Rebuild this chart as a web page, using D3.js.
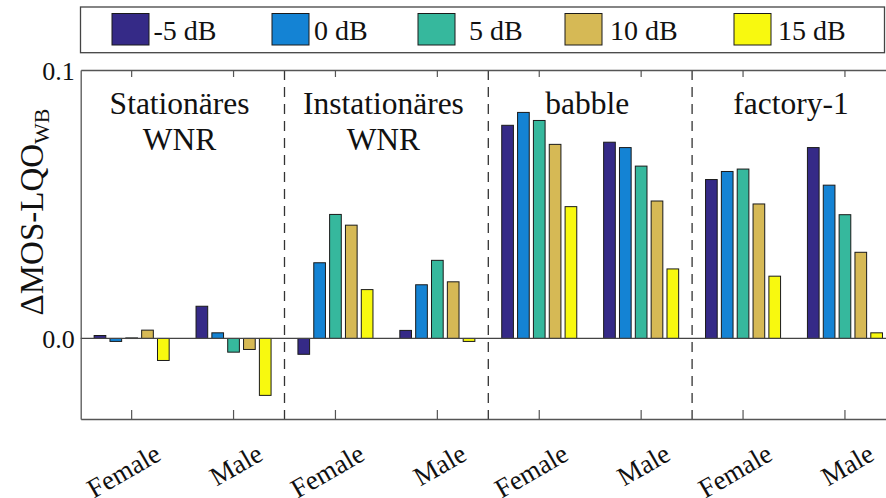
<!DOCTYPE html>
<html>
<head>
<meta charset="utf-8">
<script src="https://cdn.jsdelivr.net/npm/d3@7"></script>
</head>
<body style="margin:0">
<svg id="chart" width="886" height="498" style="display:block"></svg>
<script>
// Noise types (panels), speakers, SNR conditions
const panelTitles = [["Stationäres", "WNR"], ["Instationäres", "WNR"], ["babble"], ["factory-1"]];
const speakers = ["Female", "Male"];
const snrLabels = ["-5 dB", "0 dB", "5 dB", "10 dB", "15 dB"];
const snrColors = ["#352a87", "#1483d4", "#36b89d", "#d6b955", "#f8f90f"];
const yTicks = [0.0, 0.1];

// ΔMOS-LQO_WB per group: Stat F, Stat M, Instat F, Instat M, babble F, babble M, factory F, factory M
const snrM5 = [0.0011, 0.0120, -0.0059, 0.0030, 0.0794, 0.0731, 0.0592, 0.0711];
const snr0  = [-0.0011, 0.0021, 0.0282, 0.0200, 0.0842, 0.0711, 0.0622, 0.0571];
const snr5  = [0.0002, -0.0051, 0.0462, 0.0291, 0.0812, 0.0642, 0.0631, 0.0461];
const snr10 = [0.0031, -0.0041, 0.0422, 0.0211, 0.0723, 0.0512, 0.0501, 0.0321];
const snr15 = [-0.0082, -0.0212, 0.0182, -0.0011, 0.0491, 0.0259, 0.0232, 0.0021];
const seriesValues = [snrM5, snr0, snr5, snr10, snr15];

// Times-metric serif for every label
function serifText(sel) {
  sel.attr("font-family", "Liberation Serif")
     .style("font-family", '"Liberation Serif"')
     .attr("fill", "#111");
}

const groups = [];
panelTitles.forEach((t, p) => speakers.forEach(s => groups.push(p + "|" + s)));

const svg = d3.select("#chart");
const plotLeft = 80.7, plotRight = 895.9, plotTop = 70, plotBottom = 419;

const x = d3.scaleBand().domain(groups).range([plotLeft, plotRight]).padding(0);
const panelScale = d3.scaleBand().domain(d3.range(panelTitles.length)).range([plotLeft, plotRight]);
const inner = d3.scaleBand().domain(snrLabels).range([-39.6, 39.6]).paddingInner(0.2).paddingOuter(0.1);
const y = d3.scaleLinear().domain([-0.03, 0.1]).range([plotBottom, plotTop]);

// bars
const barData = [];
seriesValues.forEach((vals, si) => vals.forEach((v, gi) => barData.push({ g: groups[gi], s: snrLabels[si], c: snrColors[si], v })));
svg.append("g").selectAll("rect").data(barData).join("rect")
  .attr("x", d => x(d.g) + x.bandwidth() / 2 + inner(d.s) + 0.5)
  .attr("width", inner.bandwidth() - 1)
  .attr("y", d => Math.min(y(d.v), y(0)))
  .attr("height", d => Math.max(0.6, Math.abs(y(d.v) - y(0))))
  .attr("fill", d => d.c)
  .attr("stroke", "#1a1a1a")
  .attr("stroke-width", 1);

// zero reference line
svg.append("line")
  .attr("x1", plotLeft).attr("x2", plotRight).attr("y1", y(0)).attr("y2", y(0))
  .attr("stroke", "#444").attr("stroke-width", 1.2);

// dashed panel separators
svg.append("g").selectAll("line").data(d3.range(1, panelTitles.length)).join("line")
  .attr("x1", d => panelScale(d)).attr("x2", d => panelScale(d))
  .attr("y1", plotTop).attr("y2", plotBottom)
  .attr("stroke", "#333").attr("stroke-width", 1.3).attr("stroke-dasharray", "10,7");

// bottom axis with rotated speaker labels
const xAxis = svg.append("g").attr("transform", `translate(0,${plotBottom})`)
  .call(d3.axisBottom(x).tickSizeInner(-9).tickSizeOuter(0).tickFormat(g => g.split("|")[1]));
xAxis.attr("font-family", "Liberation Serif");
xAxis.select(".domain").attr("stroke", "#555").attr("stroke-width", 1.3);
xAxis.selectAll(".tick line").attr("stroke", "#555").attr("stroke-width", 1.2);
xAxis.selectAll(".tick text")
  .call(serifText)
  .attr("font-size", 27)
  .attr("text-anchor", "end")
  .attr("dy", 0)
  .attr("transform", "translate(31,40) rotate(-30)")
  .attr("y", 0).attr("x", 0);

// top mirror axis
const xTop = svg.append("g").attr("transform", `translate(0,${plotTop})`)
  .call(d3.axisTop(x).tickSizeInner(-7).tickSizeOuter(0).tickFormat(""));
xTop.select(".domain").attr("stroke", "#555").attr("stroke-width", 1.3);
xTop.selectAll(".tick line").attr("stroke", "#555").attr("stroke-width", 1.2);

// left axis
const yAxis = svg.append("g").attr("transform", `translate(${plotLeft},0)`)
  .call(d3.axisLeft(y).tickValues(yTicks).tickSize(0).tickPadding(6).tickFormat(d3.format(".1f")));
yAxis.attr("font-family", "Liberation Serif");
yAxis.select(".domain").attr("stroke", "#555").attr("stroke-width", 1.3);
yAxis.selectAll(".tick text").call(serifText).attr("font-size", 26).attr("dy", "0.35em");

// y-axis title
const yTitle = svg.append("text")
  .call(serifText)
  .attr("transform", "translate(43,212) rotate(-90)")
  .attr("text-anchor", "middle")
  .attr("font-size", 33);
yTitle.append("tspan").text("ΔMOS-LQO");
yTitle.append("tspan").text("WB").attr("font-size", 22).attr("dy", 6);

// panel titles
panelTitles.forEach((lines, p) => {
  const cx = panelScale(p) + panelScale.bandwidth() / 2;
  lines.forEach((ln, i) => {
    svg.append("text").call(serifText).attr("x", cx - 3).attr("y", 114 + i * 36)
      .attr("text-anchor", "middle").attr("font-size", 31.5).text(ln);
  });
});

// legend
svg.append("rect").attr("x", 80.5).attr("y", 7).attr("width", 804).attr("height", 45.7)
  .attr("fill", "#fff").attr("stroke", "#444").attr("stroke-width", 1.3);
const swatchX = [112, 272, 418, 565, 734];
const labelX = [153.5, 314, 469, 610, 778];
const leg = svg.append("g").selectAll("g").data(snrLabels).join("g");
leg.append("rect")
  .attr("x", (d, i) => swatchX[i]).attr("y", 13.5)
  .attr("width", 37).attr("height", 31.5)
  .attr("fill", (d, i) => snrColors[i]).attr("stroke", "#1a1a1a").attr("stroke-width", 1);
leg.append("text").call(serifText)
  .attr("x", (d, i) => labelX[i]).attr("y", 40)
  .attr("font-size", 28).text(d => d);
</script>
</body>
</html>
